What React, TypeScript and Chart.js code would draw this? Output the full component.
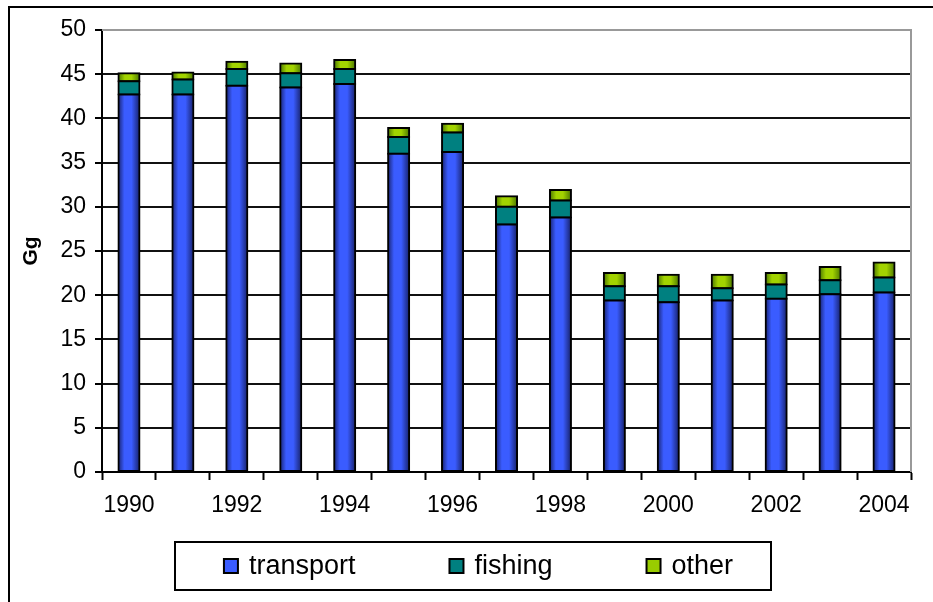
import React, { useEffect, useRef } from 'react';
import { Chart, registerables } from 'chart.js';

Chart.register(...registerables);

// ---- data ----
const years = ['1990', '1991', '1992', '1993', '1994', '1995', '1996', '1997', '1998', '1999', '2000', '2001', '2002', '2003', '2004'];
const xTickLabels = ['1990', '', '1992', '', '1994', '', '1996', '', '1998', '', '2000', '', '2002', '', '2004'];
const transport = [42.7, 42.7, 43.7, 43.5, 43.9, 36.0, 36.2, 28.0, 28.8, 19.4, 19.2, 19.4, 19.6, 20.1, 20.3];
const fishing = [1.5, 1.7, 1.9, 1.6, 1.7, 1.9, 2.2, 2.0, 1.9, 1.6, 1.8, 1.4, 1.6, 1.6, 1.7];
const other = [0.9, 0.8, 0.8, 1.1, 1.0, 1.0, 1.0, 1.2, 1.2, 1.5, 1.3, 1.5, 1.3, 1.5, 1.7];
const yTicks = [0, 5, 10, 15, 20, 25, 30, 35, 40, 45, 50];
const seriesNames = ['transport', 'fishing', 'other'];
const yTitle = 'Gg';

// ---- style ----
const FONT = '"Liberation Sans", Arial, sans-serif';
const BAR_PCT = 0.39;
const legendColors = ['#3a5cff', '#008080', '#99cc00'];
const transportStops: [number, string][] = [[0, '#1a2678'], [0.28, '#3a5cff'], [0.62, '#3a5cff'], [1, '#18236e']];
const otherStops: [number, string][] = [[0, '#4d7a00'], [0.3, '#a2d300'], [0.62, '#a2d300'], [1, '#4d7a00']];

function gradientFill(stops: [number, string][], fallback: string) {
  return (ctx: any) => {
    const chart = ctx.chart;
    const area = chart.chartArea;
    const xs = chart.scales && chart.scales.x;
    if (!area || !xs || ctx.type !== 'data') return fallback;
    const cx = xs.getPixelForValue(ctx.dataIndex);
    const w = (area.width / years.length) * BAR_PCT;
    const g = chart.ctx.createLinearGradient(cx - w / 2, 0, cx + w / 2, 0);
    stops.forEach(([o, c]) => g.addColorStop(o, c));
    return g;
  };
}

const decorPlugin = {
  id: 'decor',
  beforeDraw(chart: any) {
    const { ctx } = chart;
    ctx.save();
    ctx.fillStyle = '#fff';
    ctx.fillRect(0, 0, chart.width, chart.height);
    ctx.restore();
  },
  beforeDatasetsDraw(chart: any) {
    const { ctx, chartArea: a } = chart;
    ctx.save();
    ctx.strokeStyle = '#999';
    ctx.lineWidth = 2;
    ctx.beginPath();
    ctx.moveTo(a.left, a.top);
    ctx.lineTo(a.right, a.top);
    ctx.lineTo(a.right, a.bottom);
    ctx.stroke();
    ctx.restore();
  },
  afterDraw(chart: any) {
    const { ctx } = chart;
    ctx.save();
    // outer frame
    ctx.strokeStyle = '#000';
    ctx.lineWidth = 2;
    ctx.beginPath();
    ctx.moveTo(9, chart.height);
    ctx.lineTo(9, 7);
    ctx.lineTo(chart.width, 7);
    ctx.stroke();

    // legend
    const boxL = 175, boxT = 542, boxW = 596, boxH = 48;
    ctx.strokeRect(boxL, boxT, boxW, boxH);
    ctx.font = `27px ${FONT}`;
    const marker = 14, gap = 11, itemGap = 94;
    const widths = seriesNames.map((n) => ctx.measureText(n).width);
    const total = widths.reduce((s, w) => s + marker + gap + w, 0) + itemGap * (seriesNames.length - 1);
    let x = chart.width / 2 + 12 - total / 2;
    const cy = 566;
    ctx.textBaseline = 'middle';
    ctx.textAlign = 'left';
    seriesNames.forEach((n, i) => {
      ctx.fillStyle = legendColors[i];
      ctx.fillRect(x, cy - marker / 2, marker, marker);
      ctx.lineWidth = 2;
      ctx.strokeStyle = '#000';
      ctx.strokeRect(x, cy - marker / 2, marker, marker);
      ctx.fillStyle = '#000';
      ctx.fillText(n, x + marker + gap, cy + 1);
      x += marker + gap + widths[i] + itemGap;
    });
    ctx.restore();
  },
};

export default function App() {
  const ref = useRef<HTMLCanvasElement | null>(null);

  useEffect(() => {
    if (!ref.current) return;
    const barCommon = {
      borderColor: '#000',
      borderWidth: 2,
      borderSkipped: false,
      inflateAmount: 1,
      barPercentage: BAR_PCT,
      categoryPercentage: 1,
    };
    const chart = new Chart(ref.current, {
      type: 'bar',
      data: {
        labels: years,
        datasets: [
          { label: seriesNames[0], data: transport, backgroundColor: gradientFill(transportStops, legendColors[0]), ...barCommon },
          { label: seriesNames[1], data: fishing, backgroundColor: legendColors[1], ...barCommon },
          { label: seriesNames[2], data: other, backgroundColor: gradientFill(otherStops, legendColors[2]), ...barCommon },
        ] as any,
      },
      options: {
        animation: false,
        responsive: false,
        devicePixelRatio: 1,
        layout: { padding: { top: 30, right: 22, bottom: 70, left: 0 } },
        plugins: {
          legend: { display: false },
          tooltip: { enabled: false },
        },
        scales: {
          x: {
            stacked: true,
            ticks: {
              autoSkip: false,
              maxRotation: 0,
              minRotation: 0,
              color: '#000',
              padding: 12,
              font: { family: FONT, size: 23 },
              callback: (_v: any, i: number) => xTickLabels[i],
            },
            grid: {
              offset: true,
              drawOnChartArea: false,
              drawTicks: true,
              tickLength: 8,
              tickColor: '#000',
              tickWidth: 2,
              color: '#000',
            },
            border: { color: '#000', width: 2 },
            afterFit: (s: any) => { s.height = 60; },
          },
          y: {
            stacked: true,
            min: 0,
            max: 50,
            afterBuildTicks: (s: any) => { s.ticks = yTicks.map((v) => ({ value: v })); },
            ticks: {
              color: '#000',
              padding: 9,
              font: { family: FONT, size: 23 },
            },
            grid: {
              color: (c: any) => (c.tick && c.tick.value === 50 ? '#999' : '#111'),
              lineWidth: 2,
              tickColor: '#000',
              tickWidth: 2,
              tickLength: 7,
            },
            border: { color: '#000', width: 2 },
            title: {
              display: true,
              text: yTitle,
              color: '#000',
              font: { family: FONT, size: 21, weight: 'bold' },
              padding: { top: 19, bottom: 0 },
            },
            afterFit: (s: any) => { s.width = 102; },
          },
        },
      } as any,
      plugins: [decorPlugin],
    });
    return () => chart.destroy();
  }, []);

  return (
    <div style={{ position: 'fixed', left: 0, top: 0, width: 933, height: 602 }}>
      <canvas ref={ref} width={933} height={602} />
    </div>
  );
}
